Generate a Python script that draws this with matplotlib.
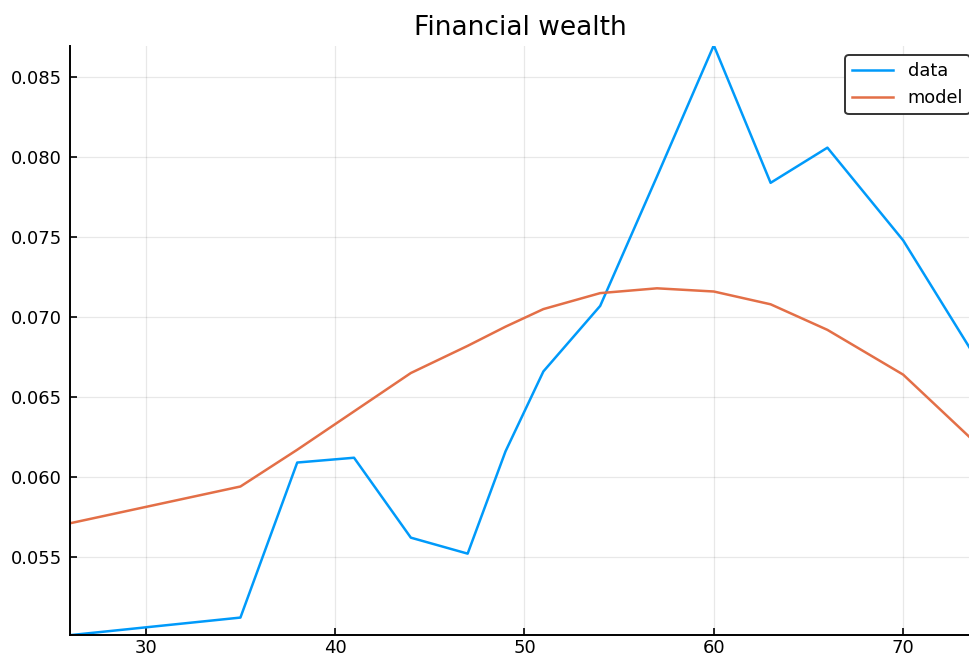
import matplotlib.pyplot as plt

# ages and shares
eta = [26, 35, 38, 41, 44, 47, 49, 51, 54, 57, 60, 63, 66, 70, 73.5]
dati = [0.0501, 0.0512, 0.0609, 0.0612, 0.0562, 0.0552, 0.0616, 0.0666, 0.0707,
        0.0788, 0.0870, 0.0784, 0.0806, 0.0748, 0.0681]
modello = [0.0571, 0.0594, 0.0617, 0.0641, 0.0665, 0.0682, 0.0694, 0.0705, 0.0715,
           0.0718, 0.0716, 0.0708, 0.0692, 0.0664, 0.0625]

x_ticks = [30, 40, 50, 60, 70]
y_ticks = [0.055, 0.060, 0.065, 0.070, 0.075, 0.080, 0.085]

fig = plt.figure(figsize=(9.7, 6.58), dpi=100)
ax = fig.add_axes([70 / 970, 23 / 658, 900 / 970, 589 / 658])

ax.plot(eta, dati, color='#009AFA', lw=1.8, label='data')
ax.plot(eta, modello, color='#E36F47', lw=1.8, label='model')

ax.set_xlim(26, 73.53)
ax.set_ylim(0.05011, 0.08696)
ax.set_xticks(x_ticks)
ax.set_yticks(y_ticks)
ax.set_yticklabels(['%.3f' % v for v in y_ticks])

ax.grid(True, color='black', alpha=0.09, lw=0.9)
ax.tick_params(direction='in', length=5, width=1.2, labelsize=13, pad=6)
ax.tick_params(axis='x', pad=3)
for lato in ['top', 'right']:
    ax.spines[lato].set_visible(False)
for lato in ['left', 'bottom']:
    ax.spines[lato].set_linewidth(1.4)

ax.set_title('Financial wealth', fontsize=19, pad=8)

leg = ax.legend(loc='upper right', bbox_to_anchor=(1.0, 1 - 9 / 589), borderaxespad=0,
                fontsize=12.8, handlelength=2.3, fancybox=True, framealpha=1,
                edgecolor='#333333')
leg.get_frame().set_linewidth(1.4)

fig.savefig('out.png', dpi=100)
